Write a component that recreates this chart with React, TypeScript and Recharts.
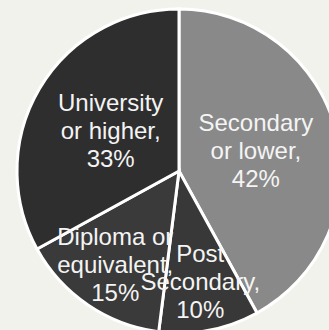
import { PieChart, Pie, Cell } from "recharts";

const categories = ["Secondary or lower", "Post Secondary", "Diploma or equivalent", "University or higher"];
const shares = [42, 10, 15, 33];
const labelLines = [
  ["Secondary", "or lower,"],
  ["Post", "Secondary,"],
  ["Diploma or", "equivalent,"],
  ["University", "or higher,"],
];
const colors = ["#898989", "#383838", "#3a3a3a", "#2e2e2e"];

const data = categories.map((name, i) => ({ name, value: shares[i] }));

const RADIAN = Math.PI / 180;

const renderLabel = (props: any) => {
  const { cx, cy, midAngle, outerRadius, index, value } = props;
  // small slices get their text pushed out toward the rim
  const factor = value < 20 ? 0.7 : 0.49;
  const r = outerRadius * factor;
  const x = cx + r * Math.cos(-midAngle * RADIAN);
  const y = cy + r * Math.sin(-midAngle * RADIAN);
  const lines = [...labelLines[index], `${value}%`];
  const lh = 28;
  return (
    <text
      x={x}
      y={y}
      textAnchor="middle"
      fill="#f4f4f4"
      fontSize={24}
      fontFamily="'Liberation Sans', Arial, sans-serif"
    >
      {lines.map((t, i) => (
        <tspan key={i} x={x} y={y + (i - 1) * lh + 8}>
          {t}
        </tspan>
      ))}
    </text>
  );
};

const App = () => {
  return (
    <div style={{ position: "absolute", left: 0, top: 0, width: 329, height: 330, background: "#f2f2ed" }}>
      <PieChart width={329} height={330} margin={{ top: 0, right: 0, bottom: 0, left: 0 }}>
        <Pie
          data={data}
          dataKey="value"
          nameKey="name"
          cx={179}
          cy={171}
          outerRadius={162}
          startAngle={90}
          endAngle={-270}
          stroke="#ffffff"
          strokeWidth={3}
          label={renderLabel}
          labelLine={false}
          isAnimationActive={false}
        >
          {data.map((d, i) => (
            <Cell key={d.name} fill={colors[i]} />
          ))}
        </Pie>
      </PieChart>
    </div>
  );
};

export default App;
